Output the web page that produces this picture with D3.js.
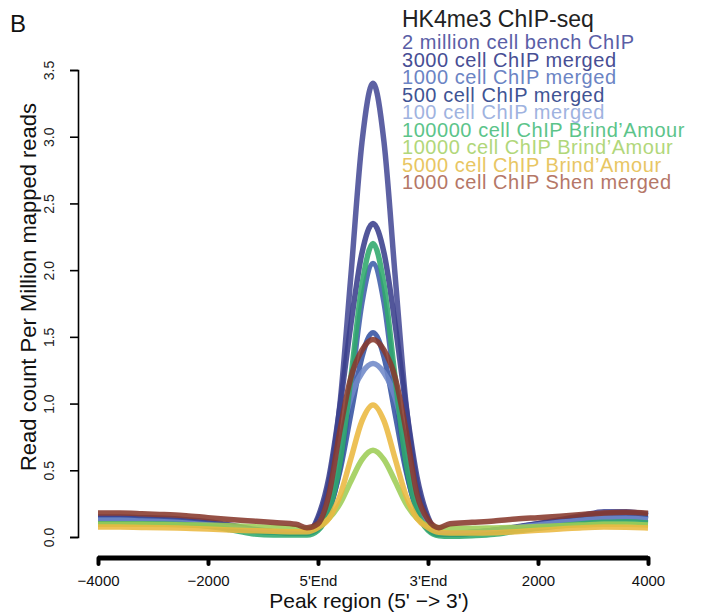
<!DOCTYPE html>
<html>
<head>
<meta charset="utf-8">
<script src="https://cdn.jsdelivr.net/npm/d3@7"></script>
<style>
  html, body { margin: 0; padding: 0; background: #fff; }
  svg { display: block; font-family: "Liberation Sans", Arial, sans-serif; }
</style>
</head>
<body>
<svg id="chart" width="702" height="615"></svg>
<script>
// ---- data ----
const positions = [0,0.2,0.4,0.6,0.8,1.0,1.2,1.4,1.6,1.8,1.9,
  2.0,2.1,2.2,2.3,2.4,2.5,2.6,2.7,2.8,2.9,3.0,
  3.1,3.2,3.4,3.6,3.8,4.0,4.2,4.4,4.6,4.8,5.0];
const tickPositions = [0,1,2,3,4,5];
const tickLabels = ["\u22124000","\u22122000","5'End","3'End","2000","4000"];
const yTicks = [0,0.5,1.0,1.5,2.0,2.5,3.0,3.5];

const seriesNames = [
  "2 million cell bench ChIP",
  "3000 cell ChIP merged",
  "1000 cell ChIP merged",
  "500 cell ChIP merged",
  "100 cell ChIP merged",
  "100000 cell ChIP Brind\u2019Amour",
  "10000 cell ChIP Brind\u2019Amour",
  "5000 cell ChIP Brind\u2019Amour",
  "1000 cell ChIP Shen merged"
];
const bench2M = [0.15,0.15,0.145,0.14,0.13,0.115,0.09,0.06,0.04,0.03,0.03,
  0.13,0.40,1.00,1.97,2.96,3.40,2.96,1.97,1.00,0.40,0.13,
  0.02,0.02,0.03,0.05,0.07,0.10,0.13,0.16,0.19,0.19,0.17];
const merged3000 = [0.14,0.14,0.135,0.13,0.12,0.105,0.085,0.055,0.04,0.03,0.03,
  0.15,0.45,0.98,1.60,2.13,2.35,2.13,1.60,0.98,0.45,0.15,
  0.03,0.02,0.035,0.05,0.075,0.10,0.125,0.15,0.17,0.18,0.16];
const merged1000 = [0.13,0.13,0.125,0.12,0.11,0.095,0.075,0.05,0.035,0.03,0.03,
  0.06,0.19,0.53,1.12,1.76,2.05,1.76,1.12,0.53,0.19,0.06,
  0.02,0.02,0.03,0.045,0.07,0.09,0.11,0.13,0.145,0.15,0.14];
const merged500 = [0.12,0.12,0.118,0.112,0.105,0.09,0.07,0.045,0.035,0.03,0.03,
  0.07,0.21,0.50,0.93,1.35,1.53,1.35,0.93,0.50,0.21,0.07,
  0.02,0.02,0.03,0.045,0.065,0.085,0.105,0.125,0.14,0.145,0.135];
const merged100 = [0.125,0.125,0.12,0.115,0.105,0.09,0.07,0.05,0.04,0.035,0.035,
  0.09,0.29,0.70,1.05,1.23,1.30,1.23,1.05,0.70,0.29,0.09,
  0.03,0.03,0.035,0.05,0.07,0.09,0.11,0.125,0.14,0.14,0.13];
const brind100000 = [0.10,0.10,0.10,0.098,0.092,0.08,0.055,0.025,0.015,0.015,0.015,
  0.05,0.20,0.56,1.20,1.89,2.20,1.89,1.20,0.56,0.20,0.05,
  0.01,0.005,0.01,0.02,0.045,0.065,0.085,0.10,0.11,0.115,0.105];
const brind10000 = [0.095,0.095,0.095,0.093,0.09,0.088,0.085,0.078,0.072,0.066,0.062,
  0.085,0.14,0.25,0.42,0.58,0.65,0.58,0.42,0.25,0.14,0.085,
  0.07,0.065,0.065,0.068,0.072,0.078,0.085,0.09,0.095,0.095,0.09];
const brind5000 = [0.075,0.075,0.072,0.07,0.065,0.06,0.052,0.047,0.043,0.04,0.04,
  0.07,0.14,0.31,0.59,0.87,0.99,0.87,0.59,0.31,0.14,0.07,
  0.035,0.03,0.03,0.032,0.04,0.05,0.06,0.07,0.075,0.073,0.068];
const shen1000 = [0.18,0.18,0.175,0.168,0.16,0.145,0.132,0.12,0.108,0.095,0.07,
  0.10,0.32,0.80,1.20,1.40,1.48,1.40,1.20,0.80,0.32,0.13,
  0.07,0.10,0.11,0.12,0.135,0.145,0.155,0.168,0.18,0.185,0.178];

const seriesValues = [bench2M, merged3000, merged1000, merged500, merged100,
  brind100000, brind10000, brind5000, shen1000];

// ---- styles ----
const lineColors = ["#474b96","#3a3f8c","#3f5daa","#3452a2","#7089c8",
  "#2fa86c","#9dcd55","#ebb840","#87392c"];
const legendColors = ["#5a5ea6","#474e94","#6b84c4","#3f5494","#9fb3df",
  "#5cc48a","#b1d77a","#e8c663","#b57767"];

// ---- chart ----
const svg = d3.select("#chart");
const x = d3.scaleLinear().domain([0,5]).range([98,648]);
const y = d3.scaleLinear().domain([0,3.5]).range([537,70]);

// lines
const line = d3.line()
  .x((d,i) => x(positions[i]))
  .y(d => y(d))
  .curve(d3.curveMonotoneX);

svg.append("g").selectAll("path")
  .data(seriesValues)
  .join("path")
  .attr("d", d => line(d))
  .attr("fill","none")
  .attr("stroke",(d,i)=>lineColors[i])
  .attr("stroke-width",5.5)
  .attr("stroke-opacity",0.88)
  .attr("stroke-linejoin","round")
  .attr("stroke-linecap","butt");

// y axis
const yAxis = d3.axisLeft(y).tickValues(yTicks).tickFormat(d3.format(".1f")).tickSize(8).tickPadding(0);
const gy = svg.append("g").attr("transform","translate(78,0)").call(yAxis);
gy.select(".domain").attr("stroke","#000").attr("stroke-width",1.6);
gy.selectAll(".tick line").attr("stroke","#000").attr("stroke-width",1.6);
gy.selectAll(".tick text")
  .attr("x",null).attr("dy",null)
  .attr("transform","translate(-24,0) rotate(-90)")
  .attr("text-anchor","middle")
  .attr("font-size",14)
  .attr("fill","#222")
  .attr("font-family","Liberation Sans, Arial, sans-serif");

// x axis
const xAxis = d3.axisBottom(x).tickValues(tickPositions).tickFormat((d,i)=>tickLabels[i]).tickSize(7).tickPadding(10);
const gx = svg.append("g").attr("transform","translate(0,558)").call(xAxis);
gx.select(".domain").attr("stroke","#000").attr("stroke-width",5).attr("d","M98,0H648");
gx.selectAll(".tick line").attr("stroke","#000").attr("stroke-width",4).attr("stroke-linecap","round").attr("y1",0).attr("y2",6);
gx.selectAll(".tick text")
  .attr("font-size",15)
  .attr("fill","#111")
  .attr("font-family","Liberation Sans, Arial, sans-serif");

// axis titles
svg.append("text")
  .attr("transform","translate(36,287) rotate(-90)")
  .attr("text-anchor","middle")
  .attr("font-size",22)
  .attr("fill","#111")
  .text("Read count Per Million mapped reads");

svg.append("text")
  .attr("x",369).attr("y",608)
  .attr("text-anchor","middle")
  .attr("font-size",21)
  .attr("fill","#111")
  .text("Peak region (5' \u2212> 3')");

// panel label
svg.append("text")
  .attr("x",10).attr("y",32)
  .attr("font-size",24)
  .attr("fill","#111")
  .text("B");

// legend
svg.append("text")
  .attr("x",402).attr("y",27)
  .attr("font-size",23)
  .attr("fill","#222")
  .text("HK4me3 ChIP-seq");

svg.append("g").selectAll("text")
  .data(seriesNames)
  .join("text")
  .attr("x",402)
  .attr("y",(d,i)=>49 + i*17.5)
  .attr("font-size",20)
  .attr("letter-spacing",0.55)
  .attr("fill",(d,i)=>legendColors[i])
  .text(d=>d);
</script>
</body>
</html>
